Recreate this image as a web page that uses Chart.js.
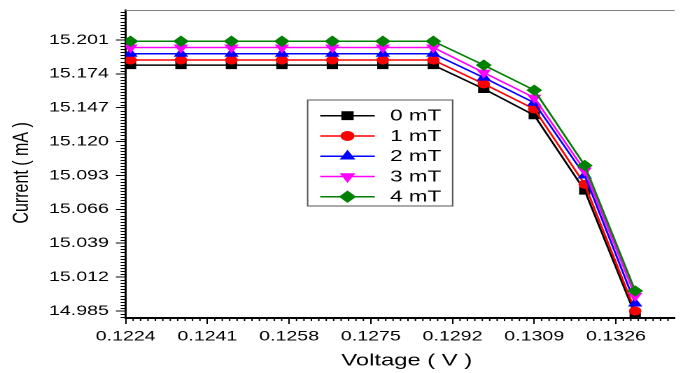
<!DOCTYPE html>
<html><head><meta charset="utf-8">
<script src="https://cdn.jsdelivr.net/npm/chart.js@4/dist/chart.umd.min.js"></script>
<style>
html,body{margin:0;padding:0;background:#fff;overflow:hidden;width:683px;height:373px;}
#wrap{width:488px;height:373px;transform:scaleX(1.39959);transform-origin:0 0;}
canvas{display:block;}
</style></head><body>
<div id="wrap"><canvas id="c" width="488" height="373"></canvas></div>
<script>
// ---- data ----
const voltage = [0.1225, 0.12355, 0.1246, 0.12565, 0.1267, 0.12775, 0.1288, 0.12985, 0.1309, 0.13195, 0.133];
const seriesLabels = ['0 mT', '1 mT', '2 mT', '3 mT', '4 mT'];
const current0mT = [15.181, 15.181, 15.181, 15.181, 15.181, 15.181, 15.181, 15.162, 15.141, 15.081, 14.982];
const current1mT = [15.185, 15.185, 15.185, 15.185, 15.185, 15.185, 15.185, 15.166, 15.146, 15.086, 14.985];
const current2mT = [15.190, 15.190, 15.190, 15.190, 15.190, 15.190, 15.190, 15.171, 15.151, 15.093, 14.991];
const current3mT = [15.195, 15.195, 15.195, 15.195, 15.195, 15.195, 15.195, 15.175, 15.155, 15.097, 14.997];
const current4mT = [15.200, 15.200, 15.200, 15.200, 15.200, 15.200, 15.200, 15.181, 15.161, 15.101, 15.001];
const xTickLabels = ['0.1224', '0.1241', '0.1258', '0.1275', '0.1292', '0.1309', '0.1326'];
const yTickLabels = ['14.985', '15.012', '15.039', '15.066', '15.093', '15.120', '15.147', '15.174', '15.201'];

// ---- styles ----
const seriesValues = [current0mT, current1mT, current2mT, current3mT, current4mT];
const colors = ['#000000', '#ff0000', '#0000ff', '#ff00ff', '#008000'];
const pointStyles = ['rect', 'circle', 'triangle', 'triangle', 'rectRot'];
const pointRotations = [0, 0, 0, 180, 0];
const pointRadii = [5, 4, 5, 5, 5];

const xTickValues = xTickLabels.map(Number);
const yTickValues = yTickLabels.map(Number);
const FONT = '"Liberation Sans", Arial, sans-serif';

const datasets = seriesValues.map((vals, i) => ({
  label: seriesLabels[i],
  data: vals.map((v, j) => ({x: voltage[j], y: v})),
  borderColor: colors[i],
  backgroundColor: colors[i],
  pointBackgroundColor: colors[i],
  pointBorderColor: colors[i],
  pointStyle: pointStyles[i],
  pointRotation: pointRotations[i],
  pointRadius: pointRadii[i],
  pointBorderWidth: 1,
  borderWidth: 1.5,
  tension: 0,
  order: seriesValues.length - 1 - i
}));

const boxLegend = {
  id: 'boxLegend',
  afterDatasetsDraw(chart) {
    const ctx = chart.ctx, a = chart.chartArea;
    const x0 = a.left + 130, y0 = a.top + 90, w = 103.6, h = 106;
    ctx.save();
    ctx.fillStyle = '#fff';
    ctx.fillRect(x0, y0, w, h);
    ctx.strokeStyle = '#555';
    ctx.lineWidth = 1;
    ctx.strokeRect(x0, y0, w, h);
    chart.data.datasets.forEach((ds, i) => {
      const y = y0 + 15.7 + i * 20.25;
      ctx.strokeStyle = ds.borderColor;
      ctx.lineWidth = 1.5;
      ctx.beginPath(); ctx.moveTo(x0 + 9, y); ctx.lineTo(x0 + 48, y); ctx.stroke();
      ctx.fillStyle = ds.pointBackgroundColor;
      ctx.lineWidth = 1;
      Chart.helpers.drawPoint(ctx, {pointStyle: ds.pointStyle, radius: ds.pointRadius + 0.5, rotation: ds.pointRotation || 0, borderWidth: 1}, x0 + 28.5, y);
      ctx.fillStyle = '#000';
      ctx.font = '16px ' + FONT;
      ctx.textBaseline = 'middle';
      ctx.textAlign = 'left';
      ctx.fillText(ds.label, x0 + 59, y + 0.5);
    });
    ctx.restore();
  }
};

const minorTicks = {
  id: 'minorTicks',
  afterDraw(chart) {
    const {ctx, chartArea: a, scales: {x, y}} = chart;
    ctx.save();
    ctx.strokeStyle = '#000';
    ctx.lineWidth = 1;
    const nx = 11, xm = (xTickValues[1] - xTickValues[0]) / nx;
    for (let k = 0; ; k++) {
      const v = xTickValues[0] + k * xm;
      if (v > x.max) break;
      if (k % nx === 0) continue;
      const px = x.getPixelForValue(v);
      ctx.beginPath(); ctx.moveTo(px, a.bottom); ctx.lineTo(px, a.bottom + 3); ctx.stroke();
    }
    const ny = 11, ym = (yTickValues[1] - yTickValues[0]) / ny;
    const k0 = Math.ceil((y.min - yTickValues[0]) / ym);
    for (let k = k0; ; k++) {
      const v = yTickValues[0] + k * ym;
      if (v > y.max) break;
      if (((k % ny) + ny) % ny === 0) continue;
      const py = Math.round(y.getPixelForValue(v)) + 0.5;
      ctx.beginPath(); ctx.moveTo(a.left, py); ctx.lineTo(a.left - 3.6, py); ctx.stroke();
    }
    ctx.strokeStyle = '#808080';
    ctx.beginPath(); ctx.moveTo(a.left, a.top + 0.5); ctx.lineTo(a.right, a.top + 0.5); ctx.stroke();
    ctx.restore();
  }
};

new Chart(document.getElementById('c'), {
  type: 'line',
  data: {datasets},
  options: {
    responsive: false,
    devicePixelRatio: 2,
    animation: false,
    layout: {padding: {top: 10, left: 0, right: 0, bottom: 0}},
    plugins: {legend: {display: false}, tooltip: {enabled: false}},
    scales: {
      x: {
        type: 'linear',
        min: 0.1224,
        max: 0.13382,
        afterBuildTicks: s => { s.ticks = xTickValues.map(v => ({value: v})); },
        afterFit: s => { s.height = 55; s.paddingLeft = 0; s.paddingRight = 0; },
        ticks: {
          autoSkip: false, maxRotation: 0, padding: 4, color: '#000',
          font: {family: FONT, size: 14},
          callback: (v, i) => xTickLabels[i]
        },
        grid: {display: true, drawOnChartArea: false, drawTicks: true, tickLength: 6, tickColor: '#000', tickWidth: 1},
        border: {display: true, color: '#000', width: 2},
        title: {display: true, text: '  Voltage ( V )', color: '#000', font: {family: FONT, size: 17}, padding: {top: 0, bottom: 2}}
      },
      y: {
        type: 'linear',
        min: 14.9794,
        max: 15.2249,
        afterBuildTicks: s => { s.ticks = yTickValues.map(v => ({value: v})); },
        afterFit: s => { s.width = 89.8; s.paddingTop = 0; s.paddingBottom = 0; },
        ticks: {
          autoSkip: false, padding: 5, color: '#000',
          font: {family: FONT, size: 14},
          callback: (v, i) => yTickLabels[i]
        },
        grid: {display: true, drawOnChartArea: false, drawTicks: true, tickLength: 7, tickColor: '#000', tickWidth: 1},
        border: {display: true, color: '#000', width: 1.5},
        title: {display: true, text: 'Current ( mA )    ', color: '#000', font: {family: FONT, size: 16}, padding: {top: 6, bottom: 0}}
      }
    }
  },
  plugins: [minorTicks, boxLegend]
});
</script>
</body></html>
